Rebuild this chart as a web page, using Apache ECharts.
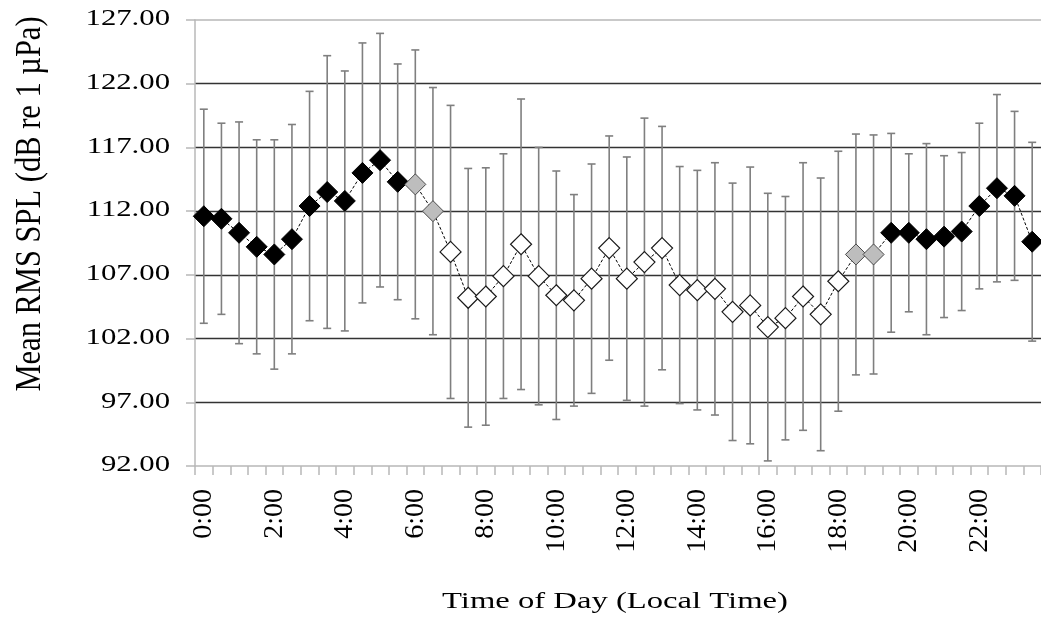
<!DOCTYPE html>
<html>
<head>
<meta charset="utf-8">
<title>Mean RMS SPL by Time of Day</title>
<script src="https://cdn.jsdelivr.net/npm/echarts@6/dist/echarts.min.js"></script>
<style>
  html, body { margin: 0; padding: 0; background: #fff; }
  #chart { width: 1041px; height: 621px; }
</style>
</head>
<body>
<div id="chart"></div>
<script>
// Half-hour bins across the day
const times = [
  '0:00','0:30','1:00','1:30','2:00','2:30','3:00','3:30',
  '4:00','4:30','5:00','5:30','6:00','6:30','7:00','7:30',
  '8:00','8:30','9:00','9:30','10:00','10:30','11:00','11:30',
  '12:00','12:30','13:00','13:30','14:00','14:30','15:00','15:30',
  '16:00','16:30','17:00','17:30','18:00','18:30','19:00','19:30',
  '20:00','20:30','21:00','21:30','22:00','22:30','23:00','23:30'
];

// Mean RMS SPL (dB re 1 µPa) per bin
const meanSPL = [
  111.6, 111.4, 110.3, 109.2, 108.6, 109.8, 112.4, 113.5,
  112.8, 115.0, 116.0, 114.3, 114.1, 112.0, 108.8, 105.2,
  105.3, 106.9, 109.4, 106.9, 105.4, 105.0, 106.7, 109.1,
  106.7, 108.0, 109.1, 106.2, 105.8, 105.9, 104.1, 104.6,
  102.9, 103.6, 105.3, 103.9, 106.5, 108.6, 108.6, 110.3,
  110.3, 109.8, 110.0, 110.4, 112.4, 113.8, 113.2, 109.6
];

// Error bar half-length (dB) per bin
const spread = [
  8.4, 7.5, 8.7, 8.4, 9.0, 9.0, 9.0, 10.7,
  10.2, 10.2, 9.95, 9.25, 10.55, 9.7, 11.5, 10.15,
  10.1, 9.6, 11.4, 10.1, 9.75, 8.3, 9.0, 8.8,
  9.55, 11.3, 9.55, 9.3, 9.4, 9.9, 10.1, 10.86,
  10.5, 9.55, 10.5, 10.7, 10.2, 9.45, 9.38, 7.8,
  6.2, 7.5, 6.35, 6.2, 6.5, 7.35, 6.63, 7.8
];

// Light regime per bin: n = night, t = twilight, d = day
const lightPeriod = [
  'n','n','n','n','n','n','n','n','n','n','n','n',
  't','t',
  'd','d','d','d','d','d','d','d','d','d','d','d',
  'd','d','d','d','d','d','d','d','d','d','d',
  't','t',
  'n','n','n','n','n','n','n','n','n'
];

const yTicks = [92, 97, 102, 107, 112, 117, 122, 127];
const xTitle = 'Time of Day (Local Time)';
const yTitle = 'Mean RMS SPL (dB re 1 µPa)';

const markerStyle = {
  n: { color: '#000000', borderColor: '#000000', borderWidth: 1 },
  t: { color: '#bdbdbd', borderColor: '#4a4a4a', borderWidth: 1 },
  d: { color: '#ffffff', borderColor: '#1a1a1a', borderWidth: 1.2 }
};

const axisGray = '#b8b8b8';
const serif = '"Liberation Serif"';

const chart = echarts.init(document.getElementById('chart'), null, { renderer: 'canvas' });

const option = {
  animation: false,
  backgroundColor: '#ffffff',
  grid: { left: 195, right: 0, top: 20, bottom: 155, containLabel: false },
  xAxis: [
    {
      type: 'category',
      data: times,
      boundaryGap: true,
      axisLine: { show: true, lineStyle: { color: axisGray, width: 1.5 } },
      axisTick: { show: true, interval: 0, length: 9, lineStyle: { color: axisGray, width: 1.5 } },
      axisLabel: { show: false },
      splitLine: { show: false }
    },
    {
      type: 'category',
      data: times,
      position: 'top',
      axisLine: { show: true, lineStyle: { color: axisGray, width: 1.5 } },
      axisTick: { show: false },
      axisLabel: { show: false },
      splitLine: { show: false }
    }
  ],
  yAxis: {
    type: 'value',
    min: 92,
    max: 127,
    interval: 5,
    axisLine: { show: true, lineStyle: { color: axisGray, width: 1.5 } },
    axisTick: { show: true, length: 9, lineStyle: { color: axisGray, width: 1.5 } },
    axisLabel: { show: false },
    splitLine: {
      show: true,
      showMinLine: false,
      showMaxLine: false,
      lineStyle: { color: '#333333', width: 1.4 }
    }
  },
  series: [
    {
      // error bars: mean ± spread
      type: 'custom',
      z: 2,
      silent: true,
      encode: { x: 0, y: [1, 2] },
      data: times.map((t, i) => [i, meanSPL[i] - spread[i], meanSPL[i] + spread[i]]),
      renderItem: function (params, api) {
        const lo = api.coord([api.value(0), api.value(1)]);
        const hi = api.coord([api.value(0), api.value(2)]);
        const x = lo[0];
        const cap = 4;
        const style = { stroke: '#7f7f7f', lineWidth: 1.6 };
        return {
          type: 'group',
          children: [
            { type: 'line', shape: { x1: x, y1: hi[1], x2: x, y2: lo[1] }, style: style },
            { type: 'line', shape: { x1: x - cap, y1: hi[1], x2: x + cap, y2: hi[1] }, style: style },
            { type: 'line', shape: { x1: x - cap, y1: lo[1], x2: x + cap, y2: lo[1] }, style: style }
          ]
        };
      }
    },
    {
      type: 'line',
      z: 3,
      silent: true,
      symbol: 'diamond',
      symbolSize: 21,
      showSymbol: true,
      showAllSymbol: true,
      lineStyle: { color: '#000000', width: 1, type: [3, 2] },
      data: meanSPL.map((v, i) => ({ value: v, itemStyle: markerStyle[lightPeriod[i]] })),
      emphasis: { disabled: true }
    }
  ]
};

chart.setOption(option);

// Tick labels and axis titles, placed from the axes' own scales
const labels = [];
yTicks.forEach(v => {
  const y = chart.convertToPixel({ yAxisIndex: 0 }, v);
  labels.push({
    type: 'text',
    x: 170,
    y: y - 1,
    scaleX: 1.28,
    silent: true,
    style: {
      text: v.toFixed(2),
      font: '24px ' + serif,
      fill: '#000',
      align: 'right', verticalAlign: 'middle',
      textAlign: 'right', textVerticalAlign: 'middle'
    }
  });
});

times.forEach((t, i) => {
  if (i % 4 !== 0) return;
  const x = chart.convertToPixel({ xAxisIndex: 0 }, t);
  labels.push({
    type: 'text',
    x: x,
    y: 489,
    rotation: Math.PI / 2,
    silent: true,
    style: {
      text: t,
      font: '28px ' + serif,
      fill: '#000',
      align: 'right', verticalAlign: 'middle',
      textAlign: 'right', textVerticalAlign: 'middle'
    }
  });
});

labels.push({
  type: 'text',
  x: 31,
  y: 204,
  rotation: Math.PI / 2,
  scaleY: 1.14,
  silent: true,
  style: {
    text: yTitle,
    font: '30.5px ' + serif,
    fill: '#000',
    align: 'center', verticalAlign: 'middle',
    textAlign: 'center', textVerticalAlign: 'middle'
  }
});

labels.push({
  type: 'text',
  x: 615,
  y: 602,
  scaleX: 1.42,
  silent: true,
  style: {
    text: xTitle,
    font: '23px ' + serif,
    fill: '#000',
    align: 'center', verticalAlign: 'middle',
    textAlign: 'center', textVerticalAlign: 'middle'
  }
});

chart.setOption({ graphic: { elements: labels } });
</script>
</body>
</html>
